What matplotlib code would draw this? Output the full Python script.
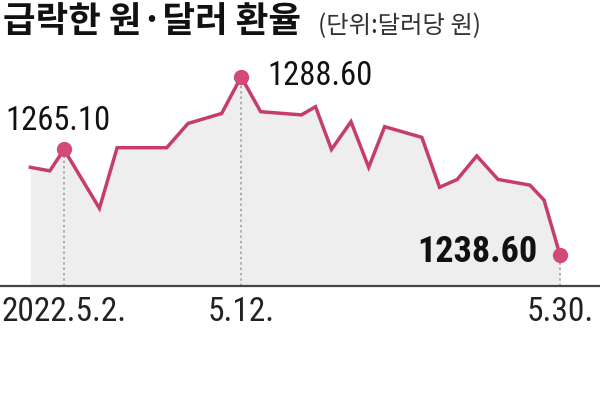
import matplotlib
matplotlib.use("Agg")
import matplotlib.pyplot as plt

# Data: x in calendar days of May 2022, y in won per dollar
days = [0.1, 1.2, 2, 4, 5, 7.8, 9, 10.9, 12, 13.1, 15.4, 16.2, 17.1, 18.2,
        19.2, 20.1, 22.2, 23.2, 24.2, 25.3, 26.5, 28.3, 29.1, 30]
rates = [1263.2, 1262.2, 1268.2, 1251.7, 1268.7, 1268.7, 1275.5, 1278.3, 1288.6,
         1278.8, 1277.9, 1280.2, 1268.2, 1276.0, 1263.2, 1274.6, 1271.6, 1257.6,
         1259.8, 1266.4, 1259.8, 1258.2, 1254.0, 1238.6]
marked_idx = [2, 8, 23]
marked_labels = ["1265.10", "1288.60", "1238.60"]
tick_days = [2, 12, 30]
tick_labels = ["2022.5.2.", "5.12.", "5.30."]
title = "급락한 원·달러 환율"
unit = "(단위:달러당 원)"

LINE = "#c63d6c"
MARK = "#d2497a"
NARROW = ["Roboto Condensed", "Sofia Sans Condensed", "DejaVu Sans"]
KR = ["Noto Sans CJK KR", "DejaVu Sans"]

fig = plt.figure(figsize=(6, 4), dpi=100)
ax = fig.add_axes([0, 0.285, 1, 0.565])
ax.set_xlim(-1.613, 32.258)
ymin = 1229.9
ax.set_ylim(ymin, 1293.3)

ax.fill_between(days, rates, ymin, color="#eeeeee", lw=0, zorder=1)
for i in marked_idx:
    ax.plot([days[i], days[i]], [ymin, rates[i]], ls=(0, (1.5, 2)), color="#9a9a9a",
            lw=1.1, zorder=2)
ax.plot(days, rates, color=LINE, lw=2.5, zorder=3, solid_joinstyle="miter")
ax.plot([days[i] for i in marked_idx], [rates[i] for i in marked_idx], "o",
        color=MARK, ms=10, zorder=4)

for s in ["top", "left", "right"]:
    ax.spines[s].set_visible(False)
ax.spines["bottom"].set_color("#444444")
ax.spines["bottom"].set_linewidth(1.6)
ax.set_yticks([])
ax.set_xticks(tick_days)
ax.set_xticklabels(tick_labels, family=NARROW, fontsize=24, color="#222222")
ax.tick_params(axis="x", length=0, pad=7)

# annotations
i0, i1, i2 = marked_idx
ax.annotate(marked_labels[0], (days[i0], rates[i0]), xytext=(-6, 19),
            textcoords="offset pixels", ha="center", va="baseline",
            family=NARROW, fontsize=23.5, color="#111111")
ax.annotate(marked_labels[1], (days[i1], rates[i1]), xytext=(26, -8),
            textcoords="offset pixels", ha="left", va="baseline",
            family=NARROW, fontsize=23.5, color="#111111")
ax.annotate(marked_labels[2], (days[i2], rates[i2]), xytext=(-23, -7),
            textcoords="offset pixels", ha="right", va="baseline",
            family=NARROW, fontsize=26, fontweight="bold", color="#111111")

fig.text(0.005, 0.99, title, family=KR, fontsize=25.5, fontweight="bold",
         color="#111111", va="top", ha="left")
fig.text(0.53, 0.968, unit, family=KR, fontsize=17.5, color="#333333",
         va="top", ha="left")

fig.savefig("out.png", dpi=100)
